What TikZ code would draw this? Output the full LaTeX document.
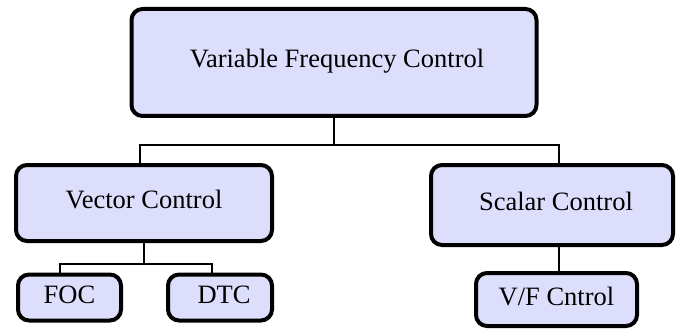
\documentclass[tikz,border=0pt]{standalone}
\usepackage{fontspec}
\setmainfont{Liberation Serif}
\definecolor{boxfill}{HTML}{DDDDFC}

\begin{document}
\begin{tikzpicture}[x=1pt,y=1pt,font=\fontsize{26.5}{30}\selectfont]
\tikzset{ctrl/.style={draw=black,line width=4pt,rounded corners=11pt,fill=boxfill,
    text height=18pt,text depth=7pt,inner sep=0pt},
  link/.style={draw=black,line width=1.4pt}}
\useasboundingbox (0,0) rectangle (678,330);

\node[ctrl,minimum width=405,minimum height=107] (vfc) at (334,267.5) {\hspace{6pt}Variable Frequency Control};

\node[ctrl,minimum width=256,minimum height=76] (vec) at (144,127) {Vector Control\hspace{12pt}};
\node[ctrl,minimum width=242,minimum height=80] (sca) at (552,125) {\hspace{8pt}Scalar Control};

\node[ctrl,minimum width=103,minimum height=46] (foc) at (69.5,32.5) {FOC};
\node[ctrl,minimum width=104,minimum height=46] (dtc) at (220,32.5) {\hspace{8pt}DTC};
\node[ctrl,minimum width=161,minimum height=53] (vf) at (556.5,30.5) {V/F Cntrol\hspace{6pt}};

% tree connectors
\draw[link] (vfc.south) -- ++(0,-27) -| ([xshift=-4pt]vec.north);
\draw[link] (vfc.south) -- ++(0,-27) -| ([xshift=7pt]sca.north);
\draw[link] (vec.south) -- ++(0,-21) -| ([xshift=-9.5pt]foc.north);
\draw[link] (vec.south) -- ++(0,-21) -| ([xshift=-8pt]dtc.north);
\draw[link] ([xshift=7pt]sca.south) -- ([xshift=7pt]sca.south |- vf.north);
\end{tikzpicture}
\end{document}
